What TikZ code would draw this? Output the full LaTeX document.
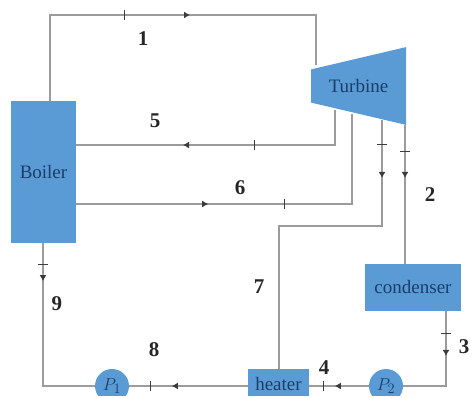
\documentclass[tikz,border=0pt]{standalone}
\usepackage{fontspec}
\setmainfont{Liberation Serif}
\usetikzlibrary{arrows.meta,decorations.markings,shapes.geometric}
\definecolor{unitblue}{RGB}{91,155,213}
\definecolor{unittext}{RGB}{25,62,105}
\definecolor{pipegray}{RGB}{155,155,155}
\definecolor{markgray}{RGB}{60,60,60}

\begin{document}
\begin{tikzpicture}[
      x=1pt,y=-1pt,
      unit/.style={fill=unitblue,text=unittext,inner sep=0pt,font=\fontsize{19}{21}\selectfont},
      pump/.style={unit,circle,minimum size=34pt},
      pipe/.style={line width=1.4pt,draw=pipegray},
      numlabel/.style={font=\fontsize{21}{23}\selectfont\bfseries,text=black!85},
      flow/.style 2 args={postaction={decorate},decoration={markings,
        mark=at position #1pt with {\draw[markgray,line width=.8pt] (0,-5pt) -- (0,5pt);},
        mark=at position #2pt with {\arrow[markgray]{Latex[length=6pt,width=7pt]}}}}
    ]
      \useasboundingbox (0,0) rectangle (472,398);
      \clip (0,0) rectangle (472,396);
      % units
      \node[unit,minimum width=65pt,minimum height=142pt] (boiler) at (43.5,172) {Boiler};
      \node[unit,trapezium,shape border rotate=90,trapezium stretches=true,trapezium angle=81.4,minimum width=78pt,minimum height=95pt] (turbine) at (358.5,86) {Turbine};
      \node[unit,minimum width=96pt,minimum height=47pt] (condenser) at (413,287.5) {condenser};
      \node[unit,minimum width=61pt,minimum height=30pt] (heater) at (278.5,384) {heater};
      \node[pump] (pone) at (112,386) {$P_1$};
      \node[pump] (ptwo) at (386,386) {$P_2$};
      % corners
      \coordinate (boilerout) at (50,101);
      \coordinate (top) at (50,15);
      \coordinate (topr) at (316,15);
      \coordinate (turbin) at (316,65);
      \coordinate (ext2) at (405,125);
      \coordinate (ext5) at (335,110);
      \coordinate (ret5) at (335,145);
      \coordinate (ext6) at (352,114);
      \coordinate (ret6) at (352,204);
      \coordinate (ext7) at (382,120);
      \coordinate (bend7) at (382,226);
      \coordinate (bend7b) at (279,226);
      \coordinate (heatin) at (279,369);
      \coordinate (condout) at (446,311);
      \coordinate (bend3) at (446,386);
      \coordinate (bend9) at (43,386);
      % pipes
      \draw[pipe,flow={160}{226}] (boilerout) -- (top) -- (topr) -- (turbin);
      \draw[pipe,flow={116}{187}] (ext5) -- (ret5) -- (ret5 -| boiler.east);
      \draw[pipe,flow={208}{132}] (ret6 -| boiler.east) -- (ret6) -- (ext6);
      \draw[pipe,flow={24}{58}] (ext7) -- (bend7) -- (bend7b) -- (heatin);
      \draw[pipe,flow={26}{53}] (ext2) -- (ext2 |- condenser.north);
      \draw[pipe,flow={22}{45}] (condout) -- (bend3) -- (ptwo);
      \draw[pipe,flow={45}{34}] (ptwo) -- (ptwo -| heater.east);
      \draw[pipe,flow={97}{76}] (heater.west |- pone) -- (pone);
      \draw[pipe,flow={21}{38}] (boiler.south -| bend9) -- (bend9) -- (pone);
      % labels
      \node[numlabel] (l1) at (143,39) {1};
      \node[numlabel] (l2) at (430,195) {2};
      \node[numlabel] (l3) at (464,347) {3};
      \node[numlabel] (l4) at (324,368) {4};
      \node[numlabel] (l5) at (155,121) {5};
      \node[numlabel] (l6) at (240,188) {6};
      \node[numlabel] (l7) at (259,287) {7};
      \node[numlabel] (l8) at (154,350) {8};
      \node[numlabel] (l9) at (57,304) {9};
\end{tikzpicture}
\end{document}
